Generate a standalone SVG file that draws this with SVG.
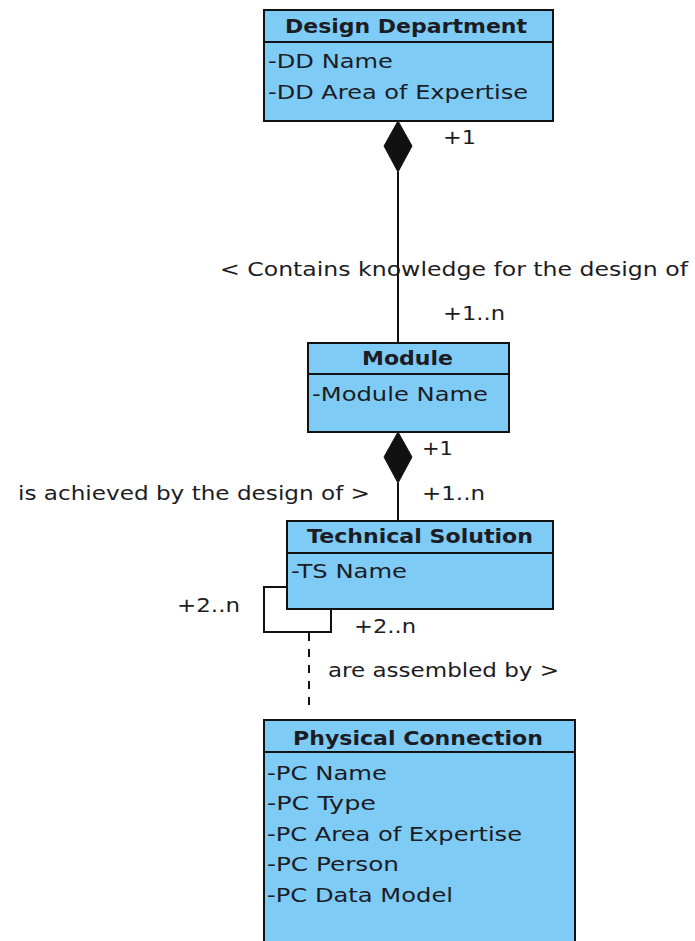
<svg xmlns="http://www.w3.org/2000/svg" width="695" height="941" viewBox="0 0 695 941">
<style>
.box{fill:#7ecbf6;stroke:#111;stroke-width:2}
.sep{stroke:#111;stroke-width:2}
.t{font-family:"DejaVu Sans","Verdana",sans-serif;font-size:20px;fill:#1c1c24}
.b{font-weight:bold;text-anchor:start}
.edge{fill:none;stroke:#111;stroke-width:2}
.dia{fill:#111;stroke:#111;stroke-width:1}
</style>
<rect width="695" height="941" fill="#ffffff"/>
<g id="connectors">
<line class="edge" x1="398" y1="172" x2="398" y2="343"/>
<polygon class="dia" points="398,121 412,146 398,172 384,146"/>
<line class="edge" x1="398" y1="483" x2="398" y2="521"/>
<polygon class="dia" points="398,432 412,457 398,483 384,457"/>
<polyline class="edge" points="287,587 264,587 264,632 331,632 331,609"/>
<line class="edge" x1="309" y1="633" x2="309" y2="712" stroke-dasharray="8,8"/>
<text class="t" x="443" y="144" textLength="33" lengthAdjust="spacingAndGlyphs">+1</text>
<text class="t" x="220" y="276" textLength="468" lengthAdjust="spacingAndGlyphs">&lt; Contains knowledge for the design of</text>
<text class="t" x="443" y="320" textLength="62" lengthAdjust="spacingAndGlyphs">+1..n</text>
<text class="t" x="422" y="455" textLength="31" lengthAdjust="spacingAndGlyphs">+1</text>
<text class="t" x="18" y="500" textLength="352" lengthAdjust="spacingAndGlyphs">is achieved by the design of &gt;</text>
<text class="t" x="422" y="500" textLength="63" lengthAdjust="spacingAndGlyphs">+1..n</text>
<text class="t" x="177" y="612" textLength="63" lengthAdjust="spacingAndGlyphs">+2..n</text>
<text class="t" x="354" y="633" textLength="62" lengthAdjust="spacingAndGlyphs">+2..n</text>
<text class="t" x="328" y="677" textLength="231" lengthAdjust="spacingAndGlyphs">are assembled by &gt;</text>
</g>
<g id="design-department">
<rect class="box" x="264" y="10" width="289" height="111"/>
<line class="sep" x1="264" y1="42" x2="553" y2="42"/>
<text class="t b" x="285" y="33" textLength="242" lengthAdjust="spacingAndGlyphs">Design Department</text>
<text class="t" x="268" y="68" textLength="125" lengthAdjust="spacingAndGlyphs">-DD Name</text>
<text class="t" x="268" y="99" textLength="260" lengthAdjust="spacingAndGlyphs">-DD Area of Expertise</text>
</g>
<g id="module">
<rect class="box" x="308" y="343" width="201" height="89"/>
<line class="sep" x1="308" y1="374" x2="509" y2="374"/>
<text class="t b" x="362" y="365" textLength="91" lengthAdjust="spacingAndGlyphs">Module</text>
<text class="t" x="312" y="401" textLength="176" lengthAdjust="spacingAndGlyphs">-Module Name</text>
</g>
<g id="technical-solution">
<rect class="box" x="287" y="521" width="266" height="88"/>
<line class="sep" x1="287" y1="553" x2="553" y2="553"/>
<text class="t b" x="307" y="543" textLength="226" lengthAdjust="spacingAndGlyphs">Technical Solution</text>
<text class="t" x="291" y="578" textLength="116" lengthAdjust="spacingAndGlyphs">-TS Name</text>
</g>
<g id="physical-connection">
<rect class="box" x="264" y="720" width="311" height="230"/>
<line class="sep" x1="264" y1="752" x2="575" y2="752"/>
<text class="t b" x="293" y="745" textLength="250" lengthAdjust="spacingAndGlyphs">Physical Connection</text>
<text class="t" x="267" y="780" textLength="120" lengthAdjust="spacingAndGlyphs">-PC Name</text>
<text class="t" x="267" y="810" textLength="109" lengthAdjust="spacingAndGlyphs">-PC Type</text>
<text class="t" x="267" y="841" textLength="255" lengthAdjust="spacingAndGlyphs">-PC Area of Expertise</text>
<text class="t" x="267" y="871" textLength="132" lengthAdjust="spacingAndGlyphs">-PC Person</text>
<text class="t" x="267" y="902" textLength="186" lengthAdjust="spacingAndGlyphs">-PC Data Model</text>
</g>
</svg>
